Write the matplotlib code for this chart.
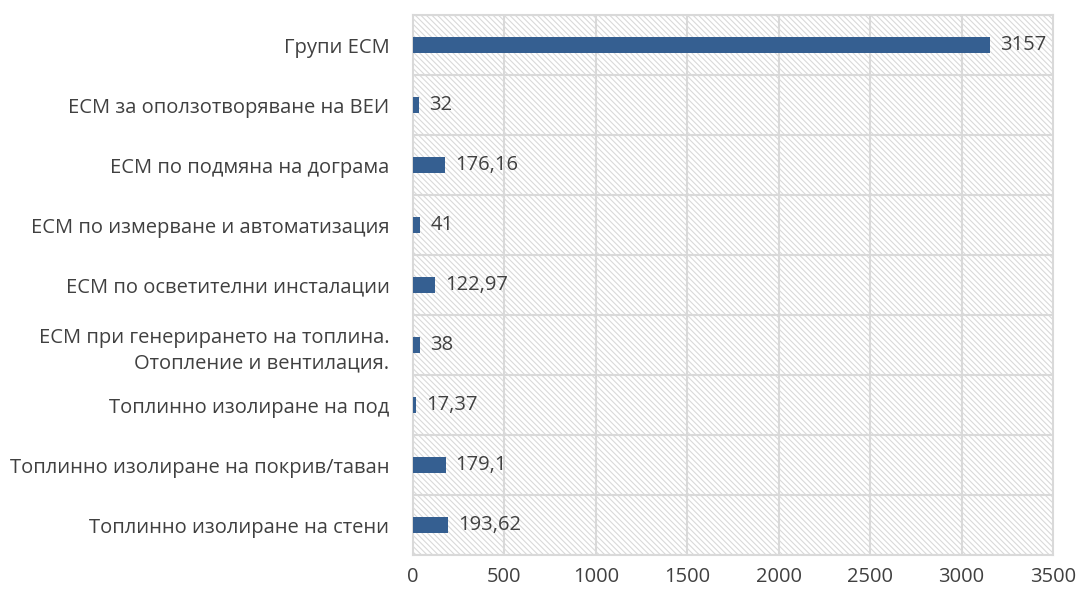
import numpy as np
import matplotlib.pyplot as plt
import matplotlib

matplotlib.rcParams['font.family'] = ['Open Sans', 'DejaVu Sans']
matplotlib.rcParams['hatch.color'] = '#d4d4d4'
matplotlib.rcParams['hatch.linewidth'] = 0.8

# energy saving measures, top to bottom
categories = ['Групи ЕСМ',
              'ЕСМ за оползотворяване на ВЕИ',
              'ЕСМ по подмяна на дограма',
              'ЕСМ по измерване и автоматизация',
              'ЕСМ по осветителни инсталации',
              'ЕСМ при генерирането на топлина.\nОтопление и вентилация.',
              'Топлинно изолиране на под',
              'Топлинно изолиране на покрив/таван',
              'Топлинно изолиране на стени']
values = [3157, 32, 176.16, 41, 122.97, 38, 17.37, 179.1, 193.62]
value_labels = ['3157', '32', '176,16', '41', '122,97', '38', '17,37', '179,1', '193,62']

text_col = '#404040'
grid_col = '#d9d9d9'
fs = 14.5

fig = plt.figure(figsize=(10.81, 5.97), dpi=100)
ax = fig.add_axes([413/1081, 1 - 555/597, 640/1081, 540/597])

n = len(categories)
y = np.arange(n)[::-1]

# hatched plot background
ax.add_patch(plt.Rectangle((0, 0), 1, 1, transform=ax.transAxes, facecolor='white',
                           hatch='\\\\\\\\\\\\', edgecolor=grid_col, linewidth=0, zorder=0))

ax.barh(y, values, height=0.27, color='#355f91', zorder=3)
for yi, v, lab in zip(y, values, value_labels):
    ax.annotate(lab, (v, yi), xytext=(7, 0), textcoords='offset points',
                va='center', ha='left', fontsize=fs, color=text_col, zorder=4)

ax.set_xlim(0, 3500)
ax.set_ylim(-0.5, n - 0.5)
ax.set_xticks(np.arange(0, 3501, 500))
ax.set_yticks(y)
ax.set_yticklabels(categories, fontsize=fs, color=text_col, linespacing=1.4)
ax.tick_params(axis='x', labelsize=fs, labelcolor=text_col, length=0, pad=9)
ax.tick_params(axis='y', length=0, pad=17)

# gridlines between categories and at every 500
for b in np.arange(-0.5, n, 1.0):
    ax.axhline(b, color=grid_col, linewidth=1.5, zorder=1)
for xv in np.arange(500, 3500, 500):
    ax.axvline(xv, color=grid_col, linewidth=1.5, zorder=1)

for s in ax.spines.values():
    s.set_color(grid_col)
    s.set_linewidth(1.5)

fig.savefig('out.png', dpi=100)
